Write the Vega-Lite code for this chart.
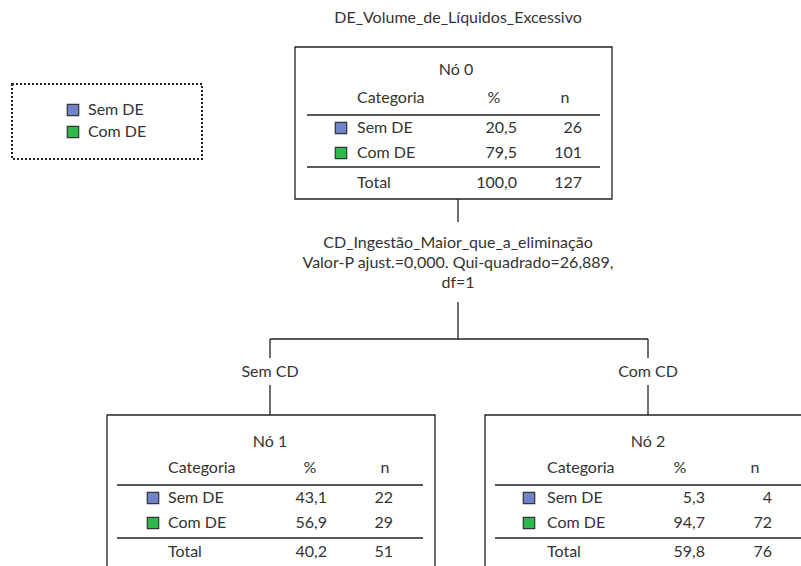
{
  "$schema": "https://vega.github.io/schema/vega-lite/v6.json",
  "autosize": {"type": "fit", "contains": "padding"},
  "width": 801,
  "height": 566,
  "padding": 0,
  "background": "white",
  "config": {"view": {"stroke": null}},
  "datasets": {
    "boxes": [
      {"id": "legend", "x": 12, "x2": 202, "y": 84, "y2": 159},
      {"id": "n0", "x": 295, "x2": 612, "y": 47, "y2": 199},
      {"id": "n1", "x": 107, "x2": 435, "y": 415, "y2": 580},
      {"id": "n2", "x": 485, "x2": 830, "y": 415, "y2": 580}
    ],
    "lines": [
      {"x": 307, "x2": 600, "y": 115, "y2": 115},
      {"x": 307, "x2": 600, "y": 167, "y2": 167},
      {"x": 117, "x2": 423, "y": 485, "y2": 485},
      {"x": 117, "x2": 423, "y": 538, "y2": 538},
      {"x": 495, "x2": 810, "y": 485, "y2": 485},
      {"x": 495, "x2": 810, "y": 538, "y2": 538},
      {"x": 458, "x2": 458, "y": 199, "y2": 222},
      {"x": 458, "x2": 458, "y": 302, "y2": 339},
      {"x": 270, "x2": 648, "y": 339, "y2": 339},
      {"x": 270, "x2": 270, "y": 339, "y2": 358},
      {"x": 648, "x2": 648, "y": 339, "y2": 358},
      {"x": 270, "x2": 270, "y": 385, "y2": 415},
      {"x": 648, "x2": 648, "y": 385, "y2": 415}
    ],
    "swatches": [
      {"cat": "Sem DE", "x": 73, "y": 110},
      {"cat": "Com DE", "x": 73, "y": 132},
      {"cat": "Sem DE", "x": 341, "y": 128},
      {"cat": "Com DE", "x": 341, "y": 153},
      {"cat": "Sem DE", "x": 153, "y": 498},
      {"cat": "Com DE", "x": 153, "y": 523},
      {"cat": "Sem DE", "x": 529, "y": 498},
      {"cat": "Com DE", "x": 529, "y": 523}
    ],
    "labels": [
      {"t": "DE_Volume_de_Líquidos_Excessivo", "x": 458, "y": 18, "a": "center"},
      {"t": "Nó 0", "x": 456, "y": 70, "a": "center"},
      {"t": "%", "x": 494, "y": 98, "a": "center"},
      {"t": "n", "x": 565, "y": 98, "a": "center"},
      {"t": "CD_Ingestão_Maior_que_a_eliminação", "x": 458, "y": 243, "a": "center"},
      {"t": "Valor-P ajust.=0,000. Qui-quadrado=26,889,", "x": 458, "y": 263, "a": "center"},
      {"t": "df=1", "x": 458, "y": 283, "a": "center"},
      {"t": "Sem CD", "x": 270, "y": 372, "a": "center"},
      {"t": "Com CD", "x": 648, "y": 372, "a": "center"},
      {"t": "Nó 1", "x": 270, "y": 442, "a": "center"},
      {"t": "%", "x": 310, "y": 468, "a": "center"},
      {"t": "n", "x": 385, "y": 468, "a": "center"},
      {"t": "Nó 2", "x": 648, "y": 442, "a": "center"},
      {"t": "%", "x": 680, "y": 468, "a": "center"},
      {"t": "n", "x": 755, "y": 468, "a": "center"},
      {"t": "Sem DE", "x": 88, "y": 110, "a": "left"},
      {"t": "Com DE", "x": 88, "y": 132, "a": "left"},
      {"t": "Categoria", "x": 357, "y": 98, "a": "left"},
      {"t": "Sem DE", "x": 357, "y": 128, "a": "left"},
      {"t": "Com DE", "x": 357, "y": 153, "a": "left"},
      {"t": "Total", "x": 357, "y": 183, "a": "left"},
      {"t": "Categoria", "x": 168, "y": 468, "a": "left"},
      {"t": "Sem DE", "x": 168, "y": 498, "a": "left"},
      {"t": "Com DE", "x": 168, "y": 523, "a": "left"},
      {"t": "Total", "x": 168, "y": 552, "a": "left"},
      {"t": "Categoria", "x": 547, "y": 468, "a": "left"},
      {"t": "Sem DE", "x": 547, "y": 498, "a": "left"},
      {"t": "Com DE", "x": 547, "y": 523, "a": "left"},
      {"t": "Total", "x": 547, "y": 552, "a": "left"},
      {"t": "20,5", "x": 517, "y": 128, "a": "right"},
      {"t": "79,5", "x": 517, "y": 153, "a": "right"},
      {"t": "100,0", "x": 517, "y": 183, "a": "right"},
      {"t": "26", "x": 582, "y": 128, "a": "right"},
      {"t": "101", "x": 582, "y": 153, "a": "right"},
      {"t": "127", "x": 582, "y": 183, "a": "right"},
      {"t": "43,1", "x": 327, "y": 498, "a": "right"},
      {"t": "56,9", "x": 327, "y": 523, "a": "right"},
      {"t": "40,2", "x": 327, "y": 552, "a": "right"},
      {"t": "22", "x": 393, "y": 498, "a": "right"},
      {"t": "29", "x": 393, "y": 523, "a": "right"},
      {"t": "51", "x": 393, "y": 552, "a": "right"},
      {"t": "5,3", "x": 705, "y": 498, "a": "right"},
      {"t": "94,7", "x": 705, "y": 523, "a": "right"},
      {"t": "59,8", "x": 705, "y": 552, "a": "right"},
      {"t": "4", "x": 772, "y": 498, "a": "right"},
      {"t": "72", "x": 772, "y": 523, "a": "right"},
      {"t": "76", "x": 772, "y": 552, "a": "right"}
    ]
  },
  "layer": [
    {
      "data": {"name": "boxes"},
      "transform": [{"filter": "datum.id !== 'legend'"}],
      "mark": {"type": "rect", "fill": "white", "stroke": "#222222", "strokeWidth": 1.3, "clip": true},
      "encoding": {
        "x": {"field": "x", "type": "quantitative", "scale": {"domain": [0, 801], "nice": false, "zero": false}, "axis": null},
        "x2": {"field": "x2"},
        "y": {"field": "y", "type": "quantitative", "scale": {"domain": [0, 566], "reverse": true, "nice": false, "zero": false}, "axis": null},
        "y2": {"field": "y2"}
      }
    },
    {
      "data": {"name": "boxes"},
      "transform": [{"filter": "datum.id === 'legend'"}],
      "mark": {"type": "rect", "fill": "white", "stroke": "#222222", "strokeWidth": 2, "strokeDash": [2, 2], "clip": true},
      "encoding": {
        "x": {"field": "x", "type": "quantitative"},
        "x2": {"field": "x2"},
        "y": {"field": "y", "type": "quantitative"},
        "y2": {"field": "y2"}
      }
    },
    {
      "data": {"name": "lines"},
      "mark": {"type": "rule", "stroke": "#222222", "strokeWidth": 1.3, "clip": true},
      "encoding": {
        "x": {"field": "x", "type": "quantitative"},
        "x2": {"field": "x2"},
        "y": {"field": "y", "type": "quantitative"},
        "y2": {"field": "y2"}
      }
    },
    {
      "data": {"name": "swatches"},
      "mark": {"type": "point", "shape": "square", "filled": true, "size": 130, "stroke": "#333333", "strokeWidth": 1.2, "opacity": 1},
      "encoding": {
        "x": {"field": "x", "type": "quantitative"},
        "y": {"field": "y", "type": "quantitative"},
        "fill": {"field": "cat", "type": "nominal", "scale": {"domain": ["Sem DE", "Com DE"], "range": ["#6e84c6", "#2db84b"]}, "legend": null}
      }
    },
    {
      "data": {"name": "labels"},
      "transform": [{"filter": "datum.a === 'center'"}],
      "mark": {"type": "text", "align": "center", "baseline": "middle", "font": "Lato", "fontSize": 16, "color": "#333333"},
      "encoding": {
        "x": {"field": "x", "type": "quantitative"},
        "y": {"field": "y", "type": "quantitative"},
        "text": {"field": "t"}
      }
    },
    {
      "data": {"name": "labels"},
      "transform": [{"filter": "datum.a === 'left'"}],
      "mark": {"type": "text", "align": "left", "baseline": "middle", "font": "Lato", "fontSize": 16, "color": "#333333"},
      "encoding": {
        "x": {"field": "x", "type": "quantitative"},
        "y": {"field": "y", "type": "quantitative"},
        "text": {"field": "t"}
      }
    },
    {
      "data": {"name": "labels"},
      "transform": [{"filter": "datum.a === 'right'"}],
      "mark": {"type": "text", "align": "right", "baseline": "middle", "font": "Lato", "fontSize": 16, "color": "#333333"},
      "encoding": {
        "x": {"field": "x", "type": "quantitative"},
        "y": {"field": "y", "type": "quantitative"},
        "text": {"field": "t"}
      }
    }
  ]
}
